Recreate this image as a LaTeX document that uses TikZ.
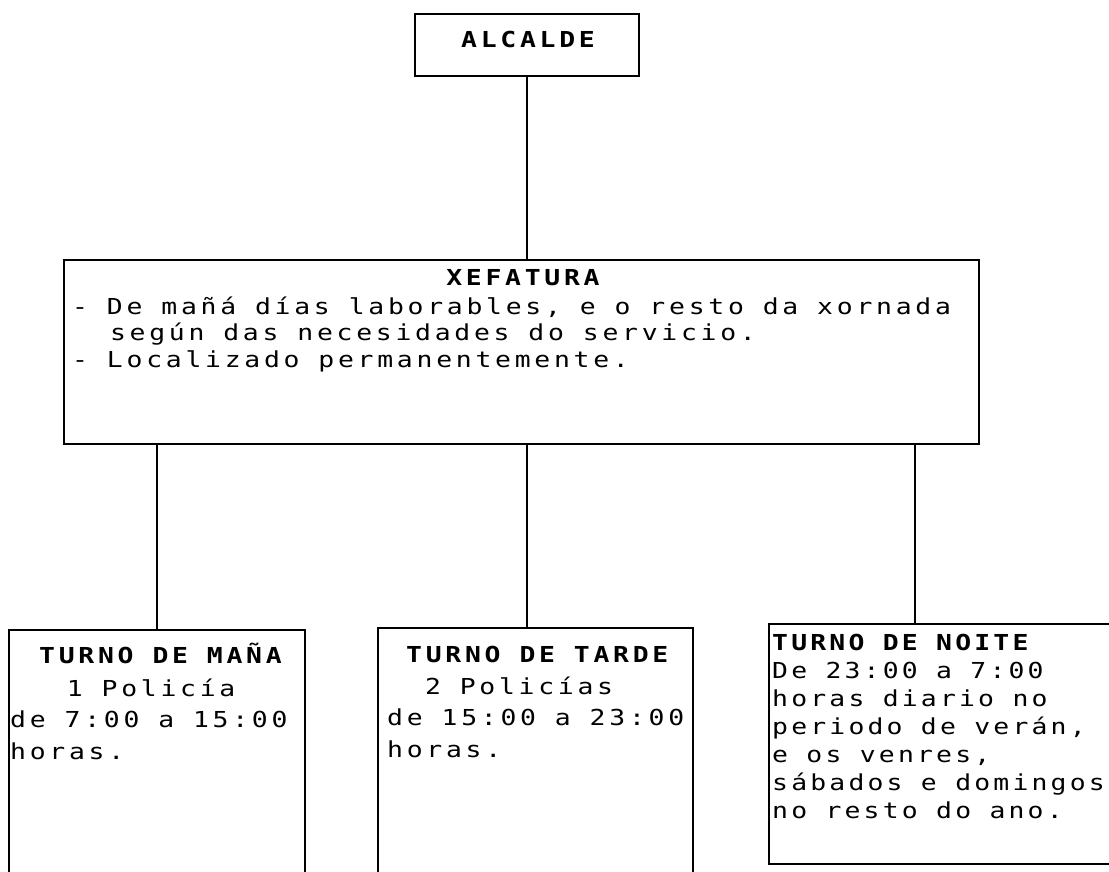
\documentclass[tikz,border=0pt]{standalone}
\usepackage{fontspec}
\newfontfamily\dotfont[FakeStretch=1.2, LetterSpace=17]{DejaVu Sans Mono}
\newfontfamily\dotfontn[FakeStretch=1.2, LetterSpace=14.5]{DejaVu Sans Mono}
\newcommand{\cellsp}[1]{\hspace*{#1\dimexpr 18.9pt\relax}}
\newcommand{\topstrut}{\rule{0pt}{20pt}}
\begin{document}
\begin{tikzpicture}[x=1pt,y=-1pt,
  box/.style={draw, line width=1.6pt, anchor=north west, inner sep=0pt},
  link/.style={line width=1.6pt},
  dot/.style={inner sep=0pt, execute at begin node={\frenchspacing\spaceskip=18.9pt\relax}},
  dotn/.style={inner sep=0pt, execute at begin node={\frenchspacing\spaceskip=18.4pt\relax}},
  ttl/.style={dot, font=\dotfont\bfseries\fontsize{22}{22}\selectfont},
  ttln/.style={dotn, font=\dotfontn\bfseries\fontsize{22}{22}\selectfont},
  body/.style={dot, anchor=north west, align=left, font=\dotfont\fontsize{22}{#1}\selectfont},
  bodyn/.style={dotn, anchor=north west, align=left, font=\dotfontn\fontsize{22}{#1}\selectfont},
]
\useasboundingbox (0,0) rectangle (1109,872);
\clip (0,0) rectangle (1109,872);
\fill[white] (0,0) rectangle (1109,872);

% boxes
\node[box, minimum width=224pt, minimum height=62pt] (alc) at (414,13) {};
\node[ttl, anchor=base] (alct) at (528,48) {ALCALDE};
\node[box, minimum width=915pt, minimum height=184pt] (xef) at (63,259) {};
\node[box, minimum width=296pt, minimum height=260pt] (m) at (8,629) {};
\node[box, minimum width=315pt, minimum height=260pt] (t) at (377,627) {};
\node[box, minimum width=350pt, minimum height=240pt] (n) at (768,623) {};

% texts
\node[ttl, anchor=base] (xeft) at (523,285) {XEFATURA};
\node[body=26.5] (xefb) at (72,294)
  {\topstrut- De mañá días laborables, e o resto da xornada\\
   \cellsp{2}según das necesidades do servicio.\\
   - Localizado permanentemente.};

\node[ttl, anchor=base west] (mt) at (39,663) {TURNO DE MAÑA};
\node[body=31.5] (mb) at (10,676)
  {\topstrut\cellsp{3}1 Policía\\
   de 7:00 a 15:00\\
   horas.};

\node[ttl, anchor=base west] (tt) at (406,662) {TURNO DE TARDE};
\node[body=31.5] (tb) at (387,674)
  {\topstrut\cellsp{2}2 Policías\\
   de 15:00 a 23:00\\
   horas.};

\node[ttln, anchor=base west] (nt) at (772,650) {TURNO DE NOITE};
\node[bodyn=28] (nb) at (772,658)
  {\topstrut De 23:00 a 7:00\\
   horas diario no\\
   periodo de verán,\\
   e os venres,\\
   sábados e domingos\\
   no resto do ano.};

% connectors
\coordinate (nj) at (915,623);
\draw[link] (alc.south) -- (alc.south |- xef.north);
\draw[link] (m.north |- xef.south) -- (m.north);
\draw[link] (alc.south |- xef.south) -- (alc.south |- t.north);
\draw[link] (nj |- xef.south) -- (nj);
\end{tikzpicture}
\end{document}
